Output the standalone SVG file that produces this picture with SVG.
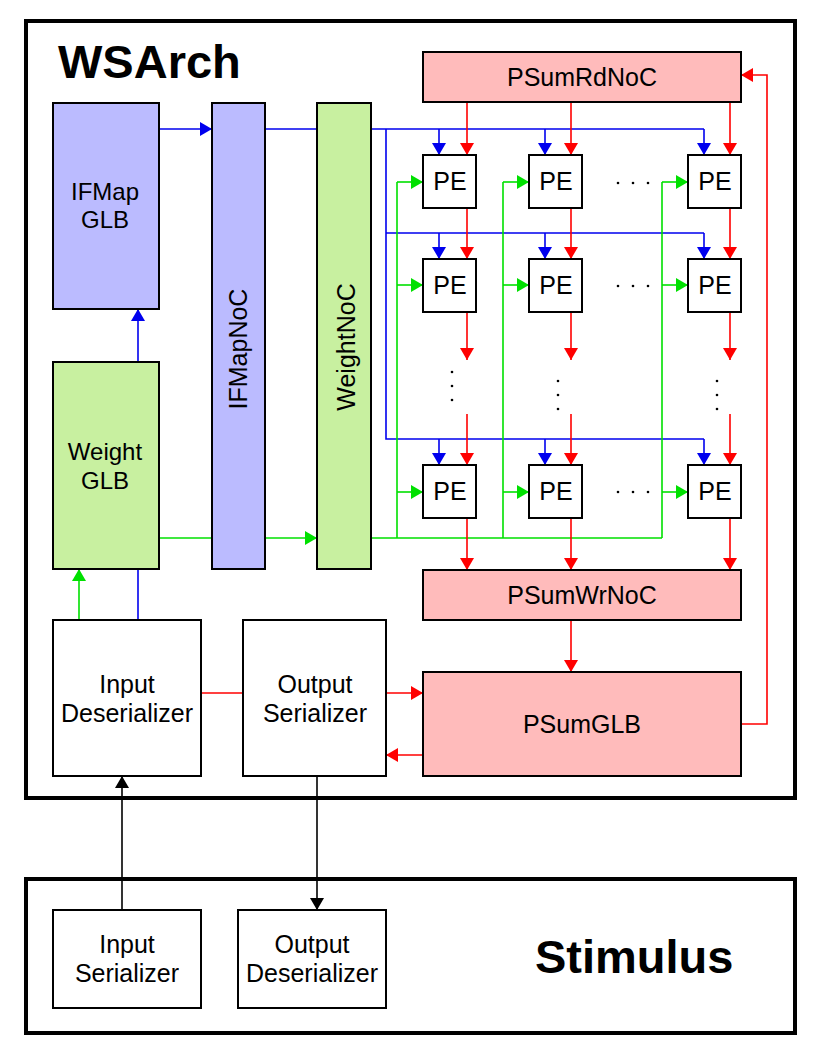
<svg xmlns="http://www.w3.org/2000/svg" width="816" height="1056" viewBox="0 0 816 1056">
<style>
text{font-family:"Liberation Sans",Arial,sans-serif;fill:#000}
.lbl{font-size:25px;text-anchor:middle}
.ttl{font-size:47px;font-weight:bold}
.box{stroke:#000;stroke-width:2}
.outer{fill:none;stroke:#000;stroke-width:4}
.w{fill:#fff}
.b{fill:#bbbbff}
.g{fill:#c8f0a0}
.r{fill:#ffbbbb}
.cb{fill:none;stroke:#0000ee;stroke-width:1.6}
.cg{fill:none;stroke:#00e000;stroke-width:1.6}
.cr{fill:none;stroke:#ff0000;stroke-width:1.6}
.ck{fill:none;stroke:#000;stroke-width:1.6}
.dot{fill:#000}
</style>
<defs>
<marker id="ab" markerUnits="userSpaceOnUse" markerWidth="12" markerHeight="14" refX="12" refY="7" orient="auto"><path d="M0,0 L12,7 L0,14 z" fill="#0000ee"/></marker>
<marker id="ag" markerUnits="userSpaceOnUse" markerWidth="12" markerHeight="14" refX="12" refY="7" orient="auto"><path d="M0,0 L12,7 L0,14 z" fill="#00e000"/></marker>
<marker id="ar" markerUnits="userSpaceOnUse" markerWidth="12" markerHeight="14" refX="12" refY="7" orient="auto"><path d="M0,0 L12,7 L0,14 z" fill="#ff0000"/></marker>
<marker id="ak" markerUnits="userSpaceOnUse" markerWidth="12" markerHeight="14" refX="12" refY="7" orient="auto"><path d="M0,0 L12,7 L0,14 z" fill="#000"/></marker>
</defs>
<rect width="816" height="1056" fill="#fff"/>

<g id="wsarch">
<rect class="outer" x="26" y="21" width="769" height="777"/>
<text class="ttl" x="58" y="78">WSArch</text>
</g>
<g id="stimulus">
<rect class="outer" x="26" y="879" width="769" height="154"/>
<text class="ttl" x="535" y="973">Stimulus</text>
</g>

<g id="connectors">
<!-- blue -->
<path class="cb" d="M159,129 H212" marker-end="url(#ab)"/>
<path class="cb" d="M265,129 H317"/>
<path class="cb" d="M371,129 H704 M386,129 V439 H704 M386,233 H704"/>
<path class="cb" d="M439,129 V155" marker-end="url(#ab)"/>
<path class="cb" d="M545,129 V155" marker-end="url(#ab)"/>
<path class="cb" d="M704,129 V155" marker-end="url(#ab)"/>
<path class="cb" d="M439,233 V259" marker-end="url(#ab)"/>
<path class="cb" d="M545,233 V259" marker-end="url(#ab)"/>
<path class="cb" d="M704,233 V259" marker-end="url(#ab)"/>
<path class="cb" d="M439,439 V465" marker-end="url(#ab)"/>
<path class="cb" d="M545,439 V465" marker-end="url(#ab)"/>
<path class="cb" d="M704,439 V465" marker-end="url(#ab)"/>
<path class="cb" d="M138,620 V569"/>
<path class="cb" d="M138,362 V309" marker-end="url(#ab)"/>
<!-- green -->
<path class="cg" d="M79,620 V569" marker-end="url(#ag)"/>
<path class="cg" d="M159,538 H317" marker-end="url(#ag)"/>
<path class="cg" d="M371,538 H662 M397,538 V182 M503,538 V182 M662,538 V182"/>
<path class="cg" d="M397,182 H423" marker-end="url(#ag)"/>
<path class="cg" d="M397,285 H423" marker-end="url(#ag)"/>
<path class="cg" d="M397,492 H423" marker-end="url(#ag)"/>
<path class="cg" d="M503,182 H529" marker-end="url(#ag)"/>
<path class="cg" d="M503,285 H529" marker-end="url(#ag)"/>
<path class="cg" d="M503,492 H529" marker-end="url(#ag)"/>
<path class="cg" d="M662,182 H688" marker-end="url(#ag)"/>
<path class="cg" d="M662,285 H688" marker-end="url(#ag)"/>
<path class="cg" d="M662,492 H688" marker-end="url(#ag)"/>
<!-- red -->
<path class="cr" d="M467,102 V155" marker-end="url(#ar)"/>
<path class="cr" d="M571,102 V155" marker-end="url(#ar)"/>
<path class="cr" d="M730,102 V155" marker-end="url(#ar)"/>
<path class="cr" d="M467,208 V259" marker-end="url(#ar)"/>
<path class="cr" d="M571,208 V259" marker-end="url(#ar)"/>
<path class="cr" d="M730,208 V259" marker-end="url(#ar)"/>
<path class="cr" d="M467,312 V360" marker-end="url(#ar)"/>
<path class="cr" d="M571,312 V360" marker-end="url(#ar)"/>
<path class="cr" d="M730,312 V360" marker-end="url(#ar)"/>
<path class="cr" d="M467,414 V465" marker-end="url(#ar)"/>
<path class="cr" d="M571,414 V465" marker-end="url(#ar)"/>
<path class="cr" d="M730,414 V465" marker-end="url(#ar)"/>
<path class="cr" d="M467,517 V570" marker-end="url(#ar)"/>
<path class="cr" d="M571,517 V570" marker-end="url(#ar)"/>
<path class="cr" d="M730,517 V570" marker-end="url(#ar)"/>
<path class="cr" d="M571,620 V672" marker-end="url(#ar)"/>
<path class="cr" d="M741,724 H767 V75 H741" marker-end="url(#ar)"/>
<path class="cr" d="M201,693 H243"/>
<path class="cr" d="M386,693 H423" marker-end="url(#ar)"/>
<path class="cr" d="M423,755 H386" marker-end="url(#ar)"/>
<!-- black -->
<path class="ck" d="M122,910 V776" marker-end="url(#ak)"/>
<path class="ck" d="M317,776 V910" marker-end="url(#ak)"/>
</g>

<g id="ifmap-glb"><rect class="box b" x="53" y="103" width="106" height="206"/><text class="lbl" x="105" y="200" style="font-size:24px">IFMap</text><text class="lbl" x="105" y="228" style="font-size:24px">GLB</text></g>
<g id="weight-glb"><rect class="box g" x="53" y="362" width="106" height="207"/><text class="lbl" x="105" y="460" style="font-size:24px">Weight</text><text class="lbl" x="105" y="489" style="font-size:24px">GLB</text></g>
<g id="ifmapnoc"><rect class="box b" x="212" y="103" width="53" height="466"/><text class="lbl" transform="translate(247,349) rotate(-90)">IFMapNoC</text></g>
<g id="weightnoc"><rect class="box g" x="317" y="103" width="54" height="466"/><text class="lbl" transform="translate(355,347) rotate(-90)">WeightNoC</text></g>
<g id="psumrdnoc"><rect class="box r" x="423" y="52" width="318" height="50"/><text class="lbl" x="582" y="86">PSumRdNoC</text></g>
<g id="psumwrnoc"><rect class="box r" x="423" y="570" width="318" height="50"/><text class="lbl" x="582" y="604">PSumWrNoC</text></g>
<g id="psumglb"><rect class="box r" x="423" y="672" width="318" height="104"/><text class="lbl" x="582" y="733">PSumGLB</text></g>
<g id="input-deserializer"><rect class="box w" x="53" y="620" width="148" height="156"/><text class="lbl" x="127" y="693">Input</text><text class="lbl" x="127" y="722">Deserializer</text></g>
<g id="output-serializer"><rect class="box w" x="243" y="620" width="143" height="156"/><text class="lbl" x="315" y="693">Output</text><text class="lbl" x="315" y="722">Serializer</text></g>
<g id="input-serializer"><rect class="box w" x="53" y="910" width="148" height="98"/><text class="lbl" x="127" y="953">Input</text><text class="lbl" x="127" y="982">Serializer</text></g>
<g id="output-deserializer"><rect class="box w" x="238" y="910" width="148" height="98"/><text class="lbl" x="312" y="953">Output</text><text class="lbl" x="312" y="982">Deserializer</text></g>

<g id="pe-1-1"><rect class="box w" x="423" y="155" width="53" height="53"/><text class="lbl" x="450" y="190">PE</text></g>
<g id="pe-1-2"><rect class="box w" x="529" y="155" width="53" height="53"/><text class="lbl" x="556" y="190">PE</text></g>
<g id="pe-1-3"><rect class="box w" x="688" y="155" width="53" height="53"/><text class="lbl" x="715" y="190">PE</text></g>
<g id="pe-2-1"><rect class="box w" x="423" y="259" width="53" height="53"/><text class="lbl" x="450" y="294">PE</text></g>
<g id="pe-2-2"><rect class="box w" x="529" y="259" width="53" height="53"/><text class="lbl" x="556" y="294">PE</text></g>
<g id="pe-2-3"><rect class="box w" x="688" y="259" width="53" height="53"/><text class="lbl" x="715" y="294">PE</text></g>
<g id="pe-3-1"><rect class="box w" x="423" y="465" width="53" height="53"/><text class="lbl" x="450" y="500">PE</text></g>
<g id="pe-3-2"><rect class="box w" x="529" y="465" width="53" height="53"/><text class="lbl" x="556" y="500">PE</text></g>
<g id="pe-3-3"><rect class="box w" x="688" y="465" width="53" height="53"/><text class="lbl" x="715" y="500">PE</text></g>

<g id="ellipses">
<circle class="dot" cx="618" cy="183" r="1.3"/><circle class="dot" cx="633" cy="183" r="1.3"/><circle class="dot" cx="648" cy="183" r="1.3"/>
<circle class="dot" cx="618" cy="286" r="1.3"/><circle class="dot" cx="633" cy="286" r="1.3"/><circle class="dot" cx="648" cy="286" r="1.3"/>
<circle class="dot" cx="618" cy="492" r="1.3"/><circle class="dot" cx="633" cy="492" r="1.3"/><circle class="dot" cx="648" cy="492" r="1.3"/>
<circle class="dot" cx="452" cy="372" r="1.3"/><circle class="dot" cx="452" cy="386" r="1.3"/><circle class="dot" cx="452" cy="400" r="1.3"/>
<circle class="dot" cx="558" cy="381" r="1.3"/><circle class="dot" cx="558" cy="395" r="1.3"/><circle class="dot" cx="558" cy="409" r="1.3"/>
<circle class="dot" cx="717" cy="381" r="1.3"/><circle class="dot" cx="717" cy="395" r="1.3"/><circle class="dot" cx="717" cy="409" r="1.3"/>
</g>
</svg>
